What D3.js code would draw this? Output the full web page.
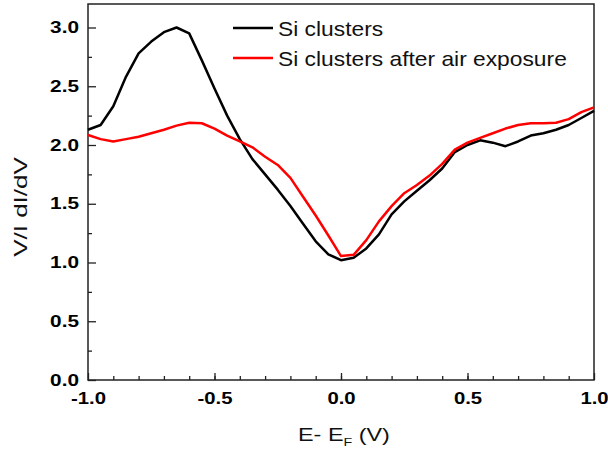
<!DOCTYPE html>
<html>
<head>
<meta charset="utf-8">
<script src="https://cdn.jsdelivr.net/npm/d3@7"></script>
<style>
  body { margin: 0; background: #fff; }
  svg { font-family: "Liberation Sans", Arial, sans-serif; }
</style>
</head>
<body>
<div id="chart"></div>
<script>
// bias values (V), 0.05 V step
var biasV = [-1.00,-0.95,-0.90,-0.85,-0.80,-0.75,-0.70,-0.65,-0.60,-0.55,
             -0.50,-0.45,-0.40,-0.35,-0.30,-0.25,-0.20,-0.15,-0.10,-0.05,
              0.00, 0.05, 0.10, 0.15, 0.20, 0.25, 0.30, 0.35, 0.40, 0.45,
              0.50, 0.55, 0.60, 0.65, 0.70, 0.75, 0.80, 0.85, 0.90, 0.95, 1.00];

var siClusters = [2.13,2.17,2.33,2.58,2.78,2.88,2.96,3.00,2.95,2.72,
                  2.48,2.25,2.05,1.88,1.75,1.62,1.48,1.33,1.18,1.07,
                  1.02,1.04,1.12,1.24,1.41,1.52,1.61,1.70,1.80,1.94,
                  2.00,2.04,2.02,1.99,2.03,2.08,2.10,2.13,2.17,2.23,2.29];

var siAir = [2.085,2.05,2.03,2.05,2.07,2.10,2.13,2.165,2.19,2.185,
             2.14,2.08,2.03,1.98,1.90,1.83,1.72,1.56,1.40,1.23,
             1.055,1.065,1.19,1.35,1.48,1.59,1.66,1.74,1.84,1.96,
             2.02,2.06,2.10,2.14,2.17,2.185,2.185,2.19,2.22,2.28,2.32];

var xTicks = [-1.0,-0.5,0.0,0.5,1.0];
var yTicks = [0.0,0.5,1.0,1.5,2.0,2.5,3.0];
var seriesNames = ["Si clusters", "Si clusters after air exposure"];
var seriesColors = ["#000000", "#ff0000"];

var W = 608, H = 454;
var margin = { top: 4, right: 14, bottom: 74, left: 88 },
    width = W - margin.left - margin.right,
    height = H - margin.top - margin.bottom;

var fmt = function(d) { return d.toFixed(1); };  // plain hyphen minus

var svg = d3.select("#chart")
  .append("svg")
  .attr("width", W)
  .attr("height", H)
  .append("g")
  .attr("transform", "translate(" + margin.left + "," + margin.top + ")");

var x = d3.scaleLinear().domain([-1, 1]).range([0, width]);
var y = d3.scaleLinear().domain([0, 3.2]).range([height, 0]);

// minor ticks
svg.append("g")
  .attr("transform", "translate(0," + height + ")")
  .call(d3.axisBottom(x).tickValues(d3.range(-9, 10).map(function(d) { return d / 10; })).tickSize(-4).tickFormat(""))
  .call(function(g) { g.select(".domain").remove(); });
svg.append("g")
  .call(d3.axisLeft(y).tickValues([0.25,0.75,1.25,1.75,2.25,2.75]).tickSize(-4).tickFormat(""))
  .call(function(g) { g.select(".domain").remove(); });

// major ticks + labels
var xAxis = svg.append("g")
  .attr("transform", "translate(0," + height + ")")
  .call(d3.axisBottom(x).tickValues(xTicks).tickSize(-7).tickPadding(13).tickFormat(fmt));
xAxis.selectAll("text")
  .style("font-size", "16px").style("font-weight", "bold")
  .attr("transform", "scale(1.27,1)");

var yAxis = svg.append("g")
  .call(d3.axisLeft(y).tickValues(yTicks).tickSize(-8).tickPadding(9).tickFormat(fmt));
yAxis.selectAll("text")
  .style("font-size", "16px").style("font-weight", "bold")
  .attr("x", -9 / 1.3)
  .attr("transform", "scale(1.3,1)");

svg.selectAll(".domain").remove();
svg.selectAll(".tick line").attr("stroke", "#222").attr("stroke-width", 1.3);

// frame
svg.append("rect")
  .attr("width", width).attr("height", height)
  .attr("fill", "none").attr("stroke", "#222").attr("stroke-width", 1.5);

// curves
var line = d3.line()
  .x(function(d) { return x(d[0]); })
  .y(function(d) { return y(d[1]); });

[siClusters, siAir].forEach(function(vals, i) {
  svg.append("path")
    .datum(biasV.map(function(v, j) { return [v, vals[j]]; }))
    .attr("fill", "none")
    .attr("stroke", seriesColors[i])
    .attr("stroke-width", 2.5)
    .attr("stroke-linejoin", "round")
    .attr("d", line);
});

// legend
var legend = svg.append("g").attr("transform", "translate(" + (233 - margin.left) + "," + (28 - margin.top) + ")");
seriesNames.forEach(function(name, i) {
  var row = legend.append("g").attr("transform", "translate(0," + (i * 30) + ")");
  row.append("line")
    .attr("x1", 0).attr("x2", 40)
    .attr("stroke", seriesColors[i]).attr("stroke-width", 2.5);
  row.append("text")
    .attr("transform", "translate(45,7.5) scale(1.14,1)")
    .style("font-size", "20px")
    .attr("fill", "#111")
    .text(name);
});

// axis titles
var xt = svg.append("text")
  .attr("transform", "translate(" + (298 - margin.left) + "," + (441 - margin.top) + ") scale(1.3,1)")
  .style("font-size", "18px")
  .attr("fill", "#111");
xt.append("tspan").text("E- E");
xt.append("tspan").attr("dy", 5).style("font-size", "11px").text("F");
xt.append("tspan").attr("dy", -5).text(" (V)");

svg.append("text")
  .attr("transform", "translate(" + (27 - margin.left) + "," + (207 - margin.top) + ") rotate(-90) scale(1.37,1)")
  .attr("text-anchor", "middle")
  .style("font-size", "19px")
  .attr("fill", "#111")
  .text("V/I dI/dV");
</script>
</body>
</html>
